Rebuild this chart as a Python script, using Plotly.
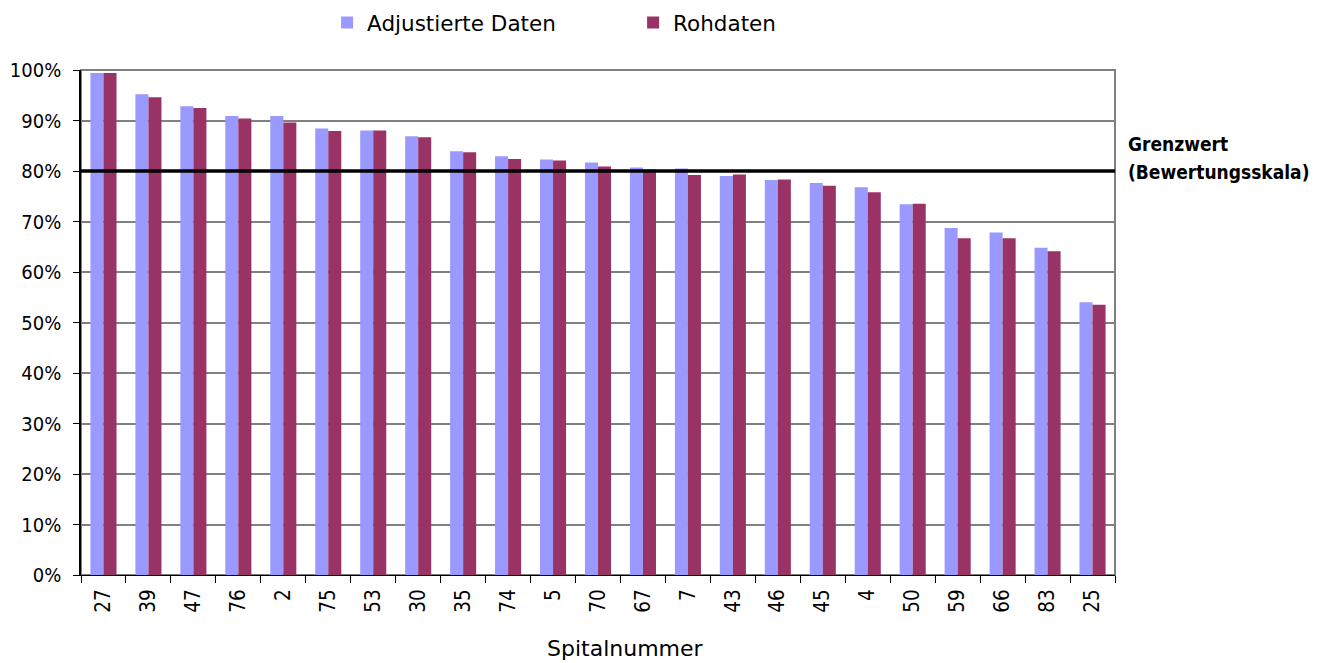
import plotly.graph_objects as go

spital = ["27", "39", "47", "76", "2", "75", "53", "30", "35", "74", "5", "70",
          "67", "7", "43", "46", "45", "4", "50", "59", "66", "83", "25"]
adjustiert = [99.4, 95.2, 92.8, 90.9, 90.9, 88.4, 88.0, 86.9, 83.9, 82.9, 82.3, 81.7,
              80.7, 80.5, 79.0, 78.2, 77.6, 76.8, 73.4, 68.7, 67.8, 64.8, 54.0]
rohdaten = [99.4, 94.6, 92.5, 90.4, 89.6, 87.9, 88.0, 86.7, 83.7, 82.4, 82.1, 80.9,
            80.3, 79.2, 79.3, 78.3, 77.1, 75.8, 73.5, 66.7, 66.7, 64.1, 53.5]
grenzwert = 0.80

adj = [v / 100 for v in adjustiert]
roh = [v / 100 for v in rohdaten]

FONT = "DejaVu Sans"
COND = "DejaVu Sans Condensed"

fig = go.Figure()
fig.add_trace(go.Bar(x=spital, y=adj, name="Adjustierte Daten",
                     marker=dict(color="#9999FF", line=dict(width=0))))
fig.add_trace(go.Bar(x=spital, y=roh, name="Rohdaten",
                     marker=dict(color="#993366", line=dict(width=0))))

fig.add_shape(type="rect", xref="paper", yref="paper", x0=0, x1=1, y0=0, y1=1,
              line=dict(color="#808080", width=2), layer="below")
fig.add_shape(type="line", xref="paper", yref="y", x0=0, x1=1, y0=grenzwert, y1=grenzwert,
              line=dict(color="black", width=3.5))
fig.add_annotation(xref="paper", yref="y", x=1.0107, y=0.853, xanchor="left",
                   yanchor="middle", showarrow=False, text="<b>Grenzwert</b>",
                   font=dict(family=COND, size=19, color="black"))
fig.add_annotation(xref="paper", yref="y", x=1.0107, y=0.798, xanchor="left",
                   yanchor="middle", showarrow=False, text="<b>(Bewertungsskala)</b>",
                   font=dict(family=COND, size=19, color="black"))
fig.add_annotation(xref="paper", yref="paper", x=0.527, y=-0.1446, xanchor="center",
                   yanchor="middle", showarrow=False, text="Spitalnummer",
                   font=dict(family=FONT, size=22, color="black"))

fig.update_layout(
    width=1320, height=655,
    margin=dict(l=73, r=213, t=62, b=88, autoexpand=False),
    paper_bgcolor="white", plot_bgcolor="white",
    barmode="group", bargap=0.42, bargroupgap=0,
    font=dict(family=FONT, size=17, color="black"),
    legend=dict(orientation="h", x=0.238, y=1.094, xanchor="left",
                yanchor="middle", font=dict(family=FONT, size=21.5),
                itemwidth=30, entrywidth=261),
    xaxis=dict(type="category", tickangle=-90, ticks="outside", tickson="boundaries",
               ticklen=7, tickcolor="black", showline=True, linecolor="black", linewidth=1,
               tickfont=dict(family=COND, size=20.5), showgrid=False, ticklabelstandoff=5,
               automargin=False),
    yaxis=dict(range=[0, 1.0], dtick=0.1, tickformat=".0%", ticks="outside", ticklen=6,
               tickcolor="black", showline=True, linecolor="black", linewidth=1.5,
               showgrid=True, gridcolor="#808080", gridwidth=1.5, ticklabelstandoff=8,
               tickfont=dict(family=COND, size=20), zeroline=False, automargin=False),
)

fig.write_html("out.html")
